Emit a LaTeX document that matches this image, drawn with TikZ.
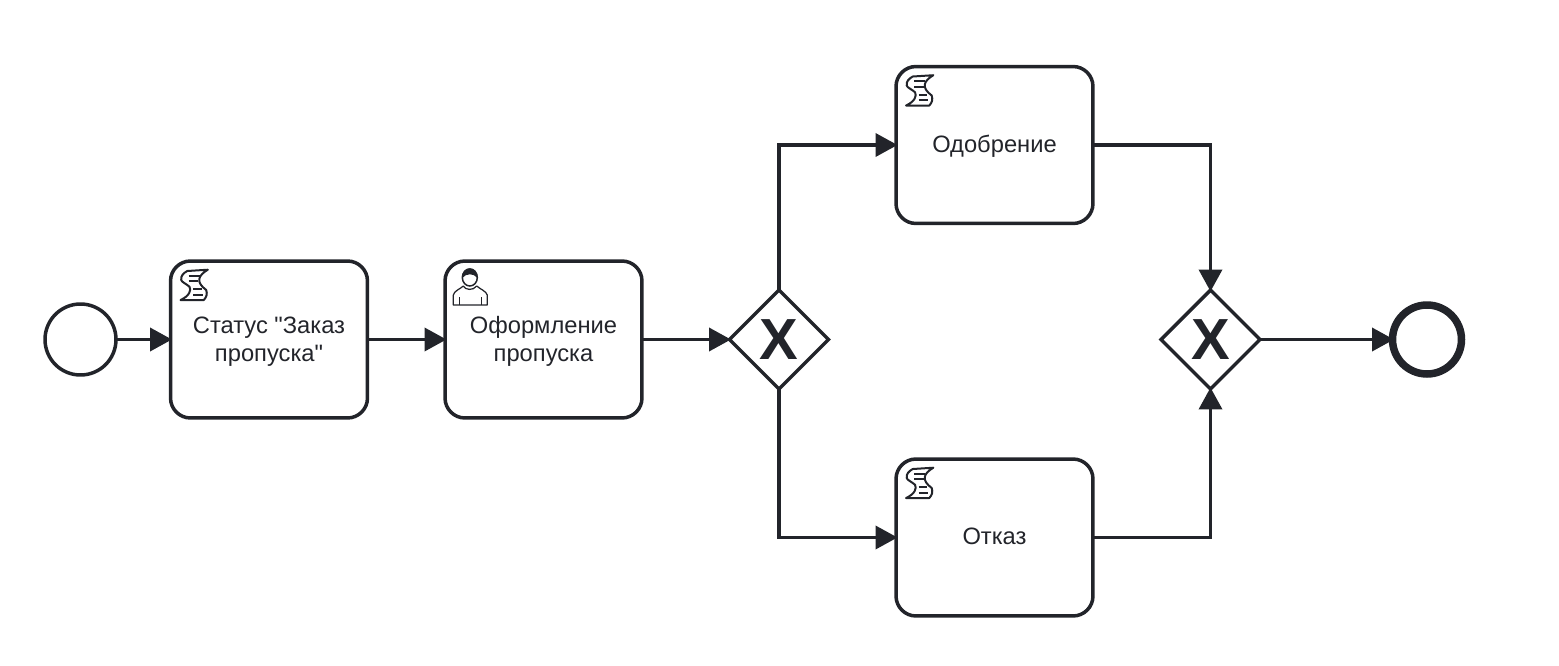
\documentclass[tikz,border=0pt]{standalone}
\usepackage{fontspec}
\setmainfont{Liberation Sans}[Ligatures=TeXOff]
\usetikzlibrary{arrows.meta, shapes.geometric}
\definecolor{ink}{HTML}{22242A}
\newcommand{\lowered}[2]{\raisebox{#1}[\height][\depth]{#2}}
\tikzset{
  task/.style={draw=ink, line width=0.07cm, rounded corners=0.4cm, minimum width=3.94cm, minimum height=3.14cm, outer sep=0pt, align=center, text=ink, inner sep=0pt, font=\fontsize{13.5}{15.9}\selectfont},
  gateway/.style={draw=ink, line width=0.07cm, diamond, aspect=1, minimum width=1.98cm, minimum height=1.98cm, inner sep=0pt, outer sep=0pt, text=ink, font=\fontsize{33}{33}\selectfont\bfseries},
  start/.style={draw=ink, line width=0.07cm, circle, minimum size=1.42cm, inner sep=0pt, outer sep=0pt},
  finish/.style={draw=ink, line width=0.15cm, circle, minimum size=1.38cm, inner sep=0pt, outer sep=0pt},
  flow/.style={draw=ink, line width=0.075cm, shorten >=-0.03cm, -{Triangle[length=0.44cm, width=0.46cm]}},
  scripticon/.pic={
    \draw[ink, line width=0.04cm, line join=round] (16.7,10) -- (37.3,8.7) .. controls (27.3,14.7) and (25,21) .. (35.7,29) .. controls (37,33) and (36,36) .. (33.3,39) -- (10,39) .. controls (19,35) and (21,29) .. (19,25.7) .. controls (16,23) and (11,21) .. (10.7,19) .. controls (10,15) and (13,12) .. (16.7,10) -- cycle;
    \foreach \ya/\xa/\xb in {14.7/18/29, 20/18/27.5, 28/22.5/31, 33.5/22.5/32}
      \draw[ink, line width=0.04cm] (\xa,\ya) -- (\xb,\ya);
  },
  usericon/.pic={
    \draw[ink, line width=0.025cm, line join=round] (8.3,44) -- (8.3,34) .. controls (9,30) and (15,28) .. (18.3,25) .. controls (20,29) and (28,30) .. (31.7,25) .. controls (35,28) and (41,30) .. (42.3,34) -- (42.3,44) -- cycle;
    \draw[ink, line width=0.025cm] (14.3,36) -- (14.3,44) (36.7,36) -- (36.7,44);
    \draw[ink, line width=0.03cm] (24.8,16.5) ellipse (7.5 and 8.5);
    \fill[ink] (17.3,17) .. controls (16,4) and (33.5,4) .. (32.3,17) .. controls (29,12) and (21,12) .. (17.3,17) -- cycle;
  }
}
\begin{document}
\begin{tikzpicture}[x=0.02cm,y=-0.02cm]
\useasboundingbox (0,0) rectangle (1559,666);

\node[start] (begin) at (80.5,339.5) {};
\node[task] (status) at (269,339.5) {\lowered{-0.035cm}{Статус "Заказ}\\\lowered{-0.035cm}{пропуска"}};
\node[task] (issue) at (543.5,339.5) {\lowered{-0.035cm}{Оформление}\\\lowered{-0.035cm}{пропуска}};
\node[gateway] (split) at (779,339.5) {X};
\node[task] (approve) at (994.5,145) {\lowered{-0.02cm}{Одобрение}};
\node[task] (reject) at (994.5,537.5) {\lowered{0.02cm}{Отказ}};
\node[gateway] (merge) at (1210.5,339.5) {X};
\node[finish] (end) at (1427,339.5) {};

\path (status.north west) pic {scripticon};
\path (issue.north west) pic {usericon};
\path (approve.north west) pic {scripticon};
\path (reject.north west) pic {scripticon};

\draw[flow] (begin) -- (status);
\draw[flow] (status) -- (issue);
\draw[flow] (issue) -- (split);
\draw[flow] (split.north) |- (approve.west);
\draw[flow] (split.south) |- (reject.west);
\draw[flow] (approve.east) -| (merge.north);
\draw[flow] (reject.east) -| (merge.south);
\draw[flow] (merge) -- (end);

\end{tikzpicture}
\end{document}
